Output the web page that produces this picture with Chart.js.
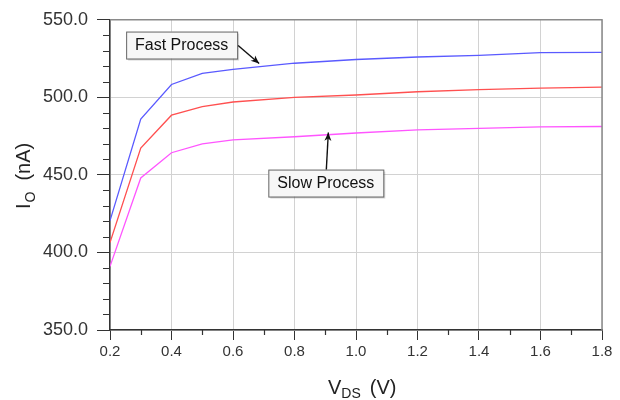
<!DOCTYPE html>
<html>
<head>
<meta charset="utf-8">
<script src="https://cdn.jsdelivr.net/npm/chart.js@4"></script>
<style>
  html, body { margin: 0; padding: 0; background: #fff; }
  canvas { display: block; }
</style>
</head>
<body>
<canvas id="ioChart" width="620" height="400"></canvas>
<script>
// V_DS sweep points (V)
const vds = [0.2, 0.3, 0.4, 0.5, 0.6, 0.8, 1.0, 1.2, 1.4, 1.6, 1.8];
// output current I_O (nA)
const fastIo = [420.5, 486, 508.3, 515.4, 518, 522, 524.4, 526, 527, 528.8, 529];
const typIo  = [406.4, 467.3, 488.5, 494, 497, 500, 501.5, 503.6, 505, 506, 506.6];
const slowIo = [391, 448, 464.3, 470, 472.6, 474.6, 477, 479, 480, 481, 481.2];
const yTicks = [350, 400, 450, 500, 550];

const FONT = '"Liberation Sans", Arial, sans-serif';

function pts(ys) {
    return vds.map((x, i) => ({x: x, y: ys[i]}));
}

// minor ticks, frame, axis titles and callout labels
const extras = {
    id: 'extras',
    afterDraw(chart) {
        const c = chart.ctx;
        const xs = chart.scales.x, ys = chart.scales.y;
        const a = chart.chartArea;
        c.save();

        // frame top/right
        c.strokeStyle = '#8a8a8a';
        c.lineWidth = 1.5;
        c.beginPath();
        c.moveTo(a.left, a.top);
        c.lineTo(a.right, a.top);
        c.lineTo(a.right, a.bottom);
        c.stroke();

        // minor ticks
        c.strokeStyle = '#333';
        c.lineWidth = 1.2;
        c.beginPath();
        for (let v = 360; v < 550; v += 10) {
            if (v % 50 === 0) continue;
            const py = Math.round(ys.getPixelForValue(v)) + 0.5;
            c.moveTo(a.left - 7, py);
            c.lineTo(a.left, py);
        }
        for (let v = 0.3; v < 1.8; v += 0.2) {
            const px = Math.round(xs.getPixelForValue(v)) + 0.5;
            c.moveTo(px, a.bottom);
            c.lineTo(px, a.bottom + 5);
        }
        c.stroke();

        // axis titles
        c.fillStyle = '#222';
        c.textBaseline = 'alphabetic';
        c.font = '20px ' + FONT;
        let x0 = 328, y0 = 394;
        c.textAlign = 'left';
        c.fillText('V', x0, y0);
        let w = c.measureText('V').width;
        c.font = '14px ' + FONT;
        c.fillText('DS', x0 + w, y0 + 4);
        let w2 = c.measureText('DS').width;
        c.font = '20px ' + FONT;
        c.fillText('(V)', x0 + w + w2 + 9, y0);

        c.save();
        c.translate(30, 209);
        c.rotate(-Math.PI / 2);
        c.fillText('I', 0, 0);
        w = c.measureText('I').width;
        c.font = '14px ' + FONT;
        c.fillText('O', w + 1, 5);
        w2 = c.measureText('O').width;
        c.font = '20px ' + FONT;
        c.fillText('(nA)', w + w2 + 12, 0);
        c.restore();

        // callouts
        function box(x, y, bw, bh, text) {
            c.fillStyle = 'rgba(0,0,0,0.15)';
            c.fillRect(x + 2, y + 2, bw, bh);
            c.fillStyle = '#f7f7f7';
            c.fillRect(x, y, bw, bh);
            c.strokeStyle = '#666';
            c.lineWidth = 1;
            c.strokeRect(x + 0.5, y + 0.5, bw, bh);
            c.fillStyle = '#111';
            c.font = '16px ' + FONT;
            c.textAlign = 'center';
            c.textBaseline = 'middle';
            c.fillText(text, x + bw / 2, y + bh / 2 + 1);
        }
        function arrow(x1, y1, x2, y2) {
            const ang = Math.atan2(y2 - y1, x2 - x1);
            c.strokeStyle = '#111';
            c.fillStyle = '#111';
            c.lineWidth = 1.4;
            c.beginPath();
            c.moveTo(x1, y1);
            c.lineTo(x2, y2);
            c.stroke();
            c.beginPath();
            c.moveTo(x2, y2);
            c.lineTo(x2 - 9 * Math.cos(ang - 0.4), y2 - 9 * Math.sin(ang - 0.4));
            c.lineTo(x2 - 6 * Math.cos(ang), y2 - 6 * Math.sin(ang));
            c.lineTo(x2 - 9 * Math.cos(ang + 0.4), y2 - 9 * Math.sin(ang + 0.4));
            c.closePath();
            c.fill();
        }
        const fx = xs.getPixelForValue(0.685), fy = ys.getPixelForValue(520.5);
        box(fx - 133, fy - 34, 111, 27, 'Fast Process');
        arrow(fx - 21, fy - 20, fx, fy - 2);

        const sx = xs.getPixelForValue(0.91), sy = ys.getPixelForValue(476);
        box(sx - 60, sy + 35, 115, 27, 'Slow Process');
        arrow(sx - 2, sy + 35, sx, sy - 2);

        c.restore();
    }
};

const ds = (label, ys, col) => ({
    label: label,
    data: pts(ys),
    borderColor: col,
    borderWidth: 1.3,
    pointRadius: 0,
    tension: 0,
    fill: false
});

new Chart(document.getElementById('ioChart'), {
    type: 'line',
    data: {
        datasets: [
            ds('Fast Process', fastIo, '#5a5aff'),
            ds('Typical', typIo, '#ff5050'),
            ds('Slow Process', slowIo, '#ff55ff')
        ]
    },
    options: {
        responsive: false,
        animation: false,
        devicePixelRatio: 1,
        layout: { padding: { top: 17, right: 18, left: 0, bottom: 0 } },
        plugins: { legend: { display: false }, tooltip: { enabled: false } },
        scales: {
            x: {
                type: 'linear',
                min: 0.2,
                max: 1.8,
                afterFit(s) { s.height = 70; },
                ticks: {
                    stepSize: 0.2,
                    padding: 3,
                    color: '#333',
                    font: { family: FONT, size: 15 },
                    maxRotation: 0,
                    callback: v => Number(v).toFixed(1)
                },
                grid: { color: '#d2d2d2', tickColor: '#333', tickLength: 10, lineWidth: 1 },
                border: { color: '#333', width: 1.5 }
            },
            y: {
                min: 350,
                max: 550,
                afterFit(s) { s.width = 110; },
                afterBuildTicks(s) { s.ticks = yTicks.map(v => ({value: v})); },
                ticks: {
                    padding: 9,
                    color: '#333',
                    font: { family: FONT, size: 18 },
                    callback: v => Number(v).toFixed(1)
                },
                grid: { color: '#d2d2d2', tickColor: '#333', tickLength: 13, lineWidth: 1 },
                border: { color: '#333', width: 1.5 }
            }
        }
    },
    plugins: [extras]
});
</script>
</body>
</html>
